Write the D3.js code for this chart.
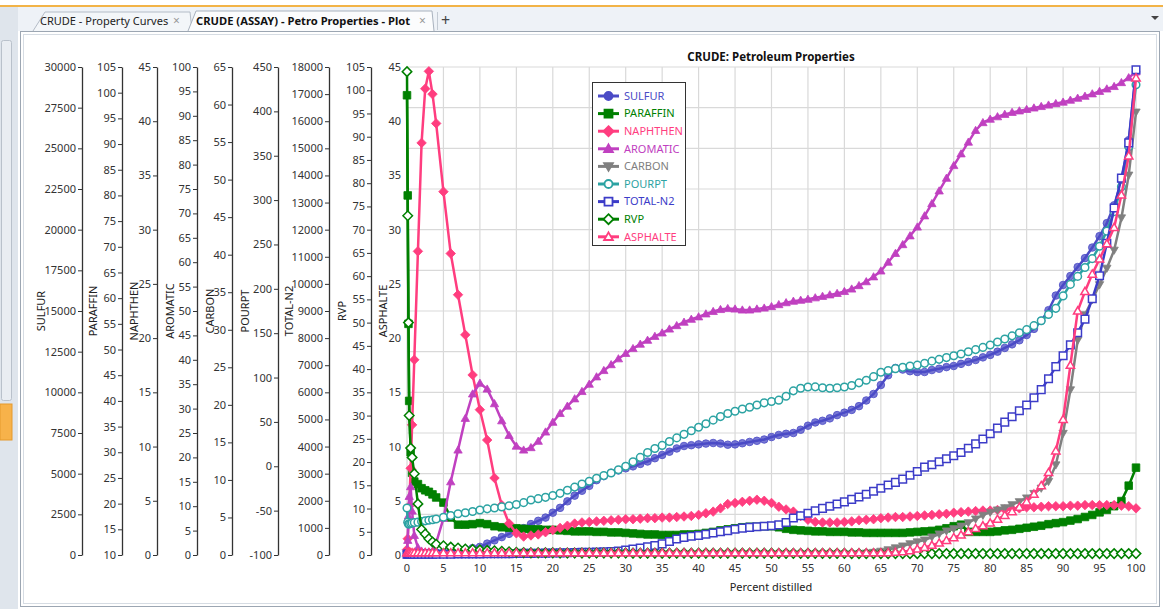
<!DOCTYPE html>
<html>
<head>
<meta charset="utf-8">
<script src="https://cdn.jsdelivr.net/npm/d3@7"></script>
<style>
  body { margin: 0; background: #fff; }
  svg { display: block; font-family: "Noto Sans", "Open Sans", sans-serif; }
</style>
</head>
<body>
<svg id="chart" width="1163" height="609"></svg>
<script>
// ---- data ----
const pctDistilled = [0, 0.1, 0.2, 0.3, 0.5, 0.7, 1, 1.5, 2, 2.5, 3, 3.5, 4,
  5, 6, 7, 8, 9, 10, 11, 12, 13, 14, 15, 16, 17, 18, 19, 20,
  21, 22, 23, 24, 25, 26, 27, 28, 29, 30,
  31, 32, 33, 34, 35, 36, 37, 38, 39, 40,
  41, 42, 43, 44, 45, 46, 47, 48, 49, 50,
  51, 52, 53, 54, 55, 56, 57, 58, 59, 60,
  61, 62, 63, 64, 65, 66, 67, 68, 69, 70,
  71, 72, 73, 74, 75, 76, 77, 78, 79, 80,
  81, 82, 83, 84, 85, 86, 87, 88, 89, 90,
  91, 92, 93, 94, 95, 96, 97, 98, 99, 100];

const sulfur = [100, 100, 100, 100, 100, 110, 120, 120, 130, 130, 140, 140, 150,
  160, 200, 250, 350, 420, 500, 700, 900, 1100, 1300, 1450, 1650, 1900, 2100, 2300, 2600,
  2900, 3300, 3650, 3950, 4250, 4600, 4850, 5050, 5200, 5330,
  5450, 5600, 5750, 5950, 6150, 6350, 6550, 6700, 6750, 6800,
  6850, 6885, 6850, 6780, 6800, 6870, 6950, 7020, 7100, 7250,
  7380, 7450, 7500, 7700, 7950, 8150, 8250, 8400, 8600, 8750,
  8920, 9150, 9500, 9900, 10450, 11050, 11500, 11400, 11300, 11250,
  11250, 11370, 11450, 11550, 11620, 11750, 11870, 11990, 12150, 12300,
  12500, 12730, 12950, 13200, 13520, 13900, 14400, 15050, 15950, 16600,
  17150, 17700, 18250, 18900, 19600, 20400, 21500, 23000, 25500, 29700];

const paraffin = [99.5, 80, 55, 40, 30, 26, 24.3, 23.8, 23.0, 22.6, 22.3, 21.8, 21.2,
  20.2, 17.3, 15.9, 15.9, 16.0, 16.2, 16.0, 15.6, 15.4, 15.3, 15.2, 15.1, 15.0, 15.0, 14.9, 14.9,
  14.8, 14.7, 14.6, 14.6, 14.6, 14.5, 14.5, 14.4, 14.4, 14.3,
  14.2, 14.1, 14.0, 14.0, 13.9, 13.9, 13.9, 14.0, 14.0, 14.1,
  14.3, 14.5, 14.8, 15.0, 15.2, 15.4, 15.5, 15.5, 15.6, 15.6,
  15.4, 15.1, 14.9, 14.8, 14.7, 14.6, 14.6, 14.5, 14.5, 14.5,
  14.4, 14.4, 14.3, 14.3, 14.3, 14.3, 14.3, 14.3, 14.4, 14.5,
  14.6, 14.7, 14.9, 15.2, 15.6, 15.9, 14.5, 14.5, 14.5, 14.5,
  14.6, 14.8, 14.9, 15.1, 15.3, 15.5, 15.7, 16.0, 16.2, 16.4,
  16.7, 17.0, 17.4, 17.8, 18.3, 18.8, 19.5, 20.5, 23.5, 27.0];

const naphthen = [0.5, 1.5, 3, 4.5, 8, 12, 18, 28, 38, 43, 44.6, 42.5, 39.8,
  33.5, 27.8, 24.0, 20.3, 16.6, 13.4, 10.6, 7.1, 4.6, 2.9, 2.0, 1.7, 1.8, 1.9, 2.1, 2.3,
  2.5, 2.7, 2.9, 3.0, 3.05, 3.1, 3.15, 3.2, 3.25, 3.3,
  3.3, 3.35, 3.4, 3.4, 3.45, 3.45, 3.5, 3.55, 3.6, 3.7,
  3.85, 4.0, 4.3, 4.7, 4.8, 4.9, 5.0, 5.1, 5.0, 4.8,
  4.45, 4.2, 4.0, 3.6, 3.25, 3.05, 3.0, 3.0, 3.0, 3.05,
  3.1, 3.2, 3.25, 3.3, 3.4, 3.45, 3.5, 3.5, 3.55, 3.6,
  3.65, 3.7, 3.75, 3.8, 3.9, 3.95, 4.0, 4.05, 4.1, 4.1,
  4.15, 4.2, 4.25, 4.3, 4.4, 4.4, 4.45, 4.5, 4.5, 4.5,
  4.55, 4.55, 4.6, 4.6, 4.6, 4.6, 4.6, 4.55, 4.5, 4.3];

const aromatic = [0.5, 3, 8, 12, 14, 9, 4, 1.5, 0.8, 0.6, 0.6, 0.8, 2.5,
  7.5, 15, 21.5, 28, 33, 35.2, 34, 31, 27.5, 24.5, 22.3, 21.5, 22, 23.3, 25.2, 27.2,
  29, 30.5, 32, 33.5, 35, 36.5, 37.8, 39, 40.2, 41.3,
  42.3, 43.2, 44, 44.8, 45.5, 46.3, 47, 47.7, 48.3, 48.8,
  49.4, 49.9, 50.3, 50.5, 50.4, 50.2, 50.2, 50.4, 50.6, 50.9,
  51.3, 51.7, 52, 52.2, 52.4, 52.7, 53, 53.3, 53.6, 54,
  54.5, 55.2, 56, 57, 58.2, 60, 61.8, 63.6, 65.4, 67.2,
  69.5, 72, 74.6, 77.2, 79.8, 82.2, 84.6, 87, 88.6, 89.3,
  89.8, 90.3, 90.7, 91, 91.3, 91.6, 91.9, 92.2, 92.5, 92.8,
  93.2, 93.6, 94, 94.5, 95, 95.5, 96, 96.8, 97.8, 99];

const carbon = [0.1, 0.1, 0.1, 0.1, 0.1, 0.1, 0.1, 0.1, 0.1, 0.1, 0.1, 0.1, 0.1,
  0.1, 0.1, 0.1, 0.1, 0.1, 0.1, 0.1, 0.1, 0.1, 0.1, 0.1, 0.1, 0.1, 0.1, 0.1, 0.1,
  0.1, 0.1, 0.1, 0.1, 0.1, 0.1, 0.1, 0.1, 0.1, 0.1,
  0.1, 0.1, 0.1, 0.1, 0.1, 0.1, 0.1, 0.1, 0.1, 0.1,
  0.1, 0.1, 0.1, 0.1, 0.1, 0.1, 0.1, 0.1, 0.1, 0.1,
  0.1, 0.1, 0.1, 0.1, 0.1, 0.1, 0.1, 0.1, 0.1, 0.1,
  0.1, 0.15, 0.25, 0.35, 0.5, 0.7, 0.95, 1.2, 1.5, 1.75,
  2.0, 2.4, 2.8, 3.2, 3.5, 3.85, 4.3, 4.8, 5.3, 5.7,
  6.0, 6.3, 6.7, 7.1, 7.6, 8.2, 8.9, 9.8, 12, 16.2,
  22, 28.6, 32, 34, 36, 38.2, 40.6, 44.9, 50.6, 59];

const pourpt = [-47, -63, -65, -65, -64.5, -64, -63.5, -63, -62.3, -61.5, -60.8, -60.2, -59.5,
  -57.5, -55.5, -53.5, -52.3, -51, -49.3, -48, -47, -45.8, -44.5, -43, -41, -38, -36.5, -35, -33,
  -30.5, -27, -23.5, -20, -16.8, -13.5, -10.5, -7.5, -4, 0,
  5, 10, 15.5, 20, 23.5, 28, 32, 36, 40, 44,
  48, 52, 56, 59.5, 62, 64.5, 66.5, 69, 71.5, 73,
  74.5, 79, 85, 88, 89.3, 89.5, 88.5, 88, 88.5, 89.3,
  91, 94, 97, 101, 106, 108, 110, 111.5, 113, 114,
  116, 118.5, 120.5, 122.5, 124.5, 126.5, 129, 131.5, 134, 136.7,
  140, 143.5, 147, 150.5, 154, 158.5, 164, 171, 178, 192,
  205, 214, 224, 234, 248, 265, 287, 315, 360, 430];

const totalN2 = [30, 30, 30, 30, 30, 30, 30, 30, 30, 30, 30, 30, 30,
  30, 30, 35, 35, 40, 40, 45, 45, 50, 50, 55, 60, 60, 65, 70, 75,
  80, 85, 90, 95, 100, 105, 115, 130, 150, 180,
  220, 260, 300, 350, 410, 500, 590, 650, 690, 720,
  765, 811, 855, 900, 950, 990, 1020, 1040, 1060, 1080,
  1110, 1200, 1365, 1450, 1540, 1630, 1720, 1800, 1880, 1960,
  2050, 2140, 2240, 2350, 2460, 2580, 2680, 2800, 2940, 3080,
  3240, 3330, 3440, 3550, 3660, 3780, 3940, 4100, 4280, 4470,
  4680, 4900, 5100, 5320, 5533, 5800, 6100, 6500, 6950, 7350,
  7750, 8200, 8700, 9450, 10300, 11500, 12800, 13900, 15200, 17900];

const rvp = [104, 73, 50, 30, 23, 21, 17.5, 11, 5.5, 4.5, 3.5, 2.8, 2.3,
  2.0, 1.7, 1.5, 1.3, 1.2, 1.1, 1.0, 0.9, 0.8, 0.7, 0.6, 0.55, 0.5, 0.5, 0.5, 0.5,
  0.45, 0.45, 0.45, 0.45, 0.45, 0.45, 0.45, 0.45, 0.45, 0.45,
  0.4, 0.4, 0.4, 0.4, 0.4, 0.4, 0.4, 0.4, 0.4, 0.4,
  0.4, 0.4, 0.4, 0.4, 0.4, 0.4, 0.4, 0.4, 0.4, 0.4,
  0.35, 0.35, 0.35, 0.35, 0.35, 0.35, 0.35, 0.35, 0.35, 0.35,
  0.3, 0.3, 0.3, 0.3, 0.3, 0.3, 0.3, 0.3, 0.3, 0.3,
  0.3, 0.3, 0.3, 0.3, 0.3, 0.3, 0.3, 0.3, 0.3, 0.3,
  0.3, 0.3, 0.3, 0.3, 0.3, 0.3, 0.3, 0.3, 0.3, 0.3,
  0.3, 0.3, 0.3, 0.3, 0.3, 0.3, 0.3, 0.3, 0.3, 0.3];

const asphalte = [0.2, 0.2, 0.2, 0.2, 0.2, 0.2, 0.2, 0.2, 0.2, 0.2, 0.2, 0.2, 0.2,
  0.2, 0.2, 0.2, 0.2, 0.2, 0.2, 0.2, 0.2, 0.2, 0.2, 0.2, 0.2, 0.2, 0.2, 0.2, 0.2,
  0.2, 0.2, 0.2, 0.2, 0.2, 0.2, 0.2, 0.2, 0.2, 0.2,
  0.2, 0.2, 0.2, 0.2, 0.2, 0.2, 0.2, 0.2, 0.2, 0.2,
  0.2, 0.2, 0.2, 0.2, 0.2, 0.2, 0.2, 0.2, 0.2, 0.2,
  0.2, 0.2, 0.2, 0.2, 0.2, 0.2, 0.2, 0.2, 0.2, 0.2,
  0.2, 0.2, 0.2, 0.2, 0.2, 0.22, 0.25, 0.3, 0.4, 0.55,
  0.7, 0.9, 1.1, 1.35, 1.6, 1.85, 2.15, 2.45, 2.7, 2.95,
  3.3, 3.65, 4.0, 4.4, 4.9, 5.6, 6.4, 7.6, 9.6, 12.5,
  17.5, 22.5, 24.3, 25.9, 27.3, 28.7, 30.2, 33.2, 36.8, 44];

const seriesNames = ['SULFUR', 'PARAFFIN', 'NAPHTHEN', 'AROMATIC', 'CARBON', 'POURPT', 'TOTAL-N2', 'RVP', 'ASPHALTE'];
const seriesValues = [sulfur, paraffin, naphthen, aromatic, carbon, pourpt, totalN2, rvp, asphalte];
const axisDomains = [[0, 30000], [10, 105], [0, 45], [0, 100], [0, 65], [-100, 450], [0, 18000], [0, 105], [0, 45]];
const axisSteps = [2500, 5, 5, 5, 5, 50, 1000, 5, 5];
const xTicks = [0, 5, 10, 15, 20, 25, 30, 35, 40, 45, 50, 55, 60, 65, 70, 75, 80, 85, 90, 95, 100];

// ---- styles ----
const seriesColors = ['#4b4bc6', '#008000', '#ff3d7f', '#c040c0', '#808080', '#2ca3a3', '#3c3cc8', '#008000', '#ff3d7f'];
const markerShapes = ['circle', 'square', 'diamond', 'triangle', 'triangleDown', 'circle', 'square', 'diamond', 'triangle'];
const markerFilled = [true, true, true, true, true, false, false, false, false];
const axisLineX = [82, 122, 157, 197, 232, 278, 329, 371, 407];
const axisTitleX = [45, 97, 138, 174, 214, 249, 293, 346, 387];

const plot = { left: 407, right: 1136, top: 67, bottom: 555 };
const svg = d3.select('#chart');

function markerPath(shape, s) {
  switch (shape) {
    case 'circle': return d3.symbol(d3.symbolCircle, Math.PI * s * s)();
    case 'square': return `M${-s},${-s}H${s}V${s}H${-s}Z`;
    case 'diamond': return `M0,${-s * 1.25}L${s * 1.25},0L0,${s * 1.25}L${-s * 1.25},0Z`;
    case 'triangle': return `M0,${-s * 1.1}L${s * 1.1},${s * 0.8}L${-s * 1.1},${s * 0.8}Z`;
    case 'triangleDown': return `M0,${s * 1.1}L${s * 1.1},${-s * 0.8}L${-s * 1.1},${-s * 0.8}Z`;
  }
}

// ---- window chrome ----
svg.append('rect').attr('width', 1163).attr('height', 609).attr('fill', '#fff');
svg.append('rect').attr('x', 0).attr('y', 0).attr('width', 1163).attr('height', 31).attr('fill', '#eef2f7');
svg.append('rect').attr('x', 0).attr('y', 0).attr('width', 1163).attr('height', 5).attr('fill', '#fff');
svg.append('rect').attr('x', 0).attr('y', 5).attr('width', 1163).attr('height', 2).attr('fill', '#f2b347');
svg.append('rect').attr('x', 0).attr('y', 7).attr('width', 18).attr('height', 602).attr('fill', '#dfe5ec');
svg.append('rect').attr('x', 1.5).attr('y', 40.5).attr('width', 10).attr('height', 360).attr('rx', 2)
  .attr('fill', '#e9edf2').attr('stroke', '#b9c1cb');
svg.append('rect').attr('x', 0).attr('y', 404).attr('width', 12).attr('height', 36).attr('fill', '#f7b24a').attr('stroke', '#e59a2c');

// tabs
svg.append('path').attr('d', 'M33,31 L45,12 L190,12 L192,31').attr('fill', '#f3f6f9').attr('stroke', '#b4bcc7');
svg.append('path').attr('d', 'M188,31 L196,11 L432,11 L434,31').attr('fill', '#fbfcfd').attr('stroke', '#a9b2be');
svg.append('text').attr('x', 40).attr('y', 25).attr('font-size', 11).attr('fill', '#222').text('CRUDE - Property Curves');
svg.append('text').attr('x', 173).attr('y', 25).attr('font-size', 12).attr('fill', '#999').text('×');
svg.append('text').attr('x', 196).attr('y', 25).attr('font-size', 11.2).attr('font-weight', 'bold').attr('fill', '#111')
  .text('CRUDE (ASSAY) - Petro Properties - Plot');
svg.append('text').attr('x', 419).attr('y', 25).attr('font-size', 12).attr('fill', '#999').text('×');
svg.append('line').attr('x1', 437.5).attr('x2', 437.5).attr('y1', 12).attr('y2', 30).attr('stroke', '#c3cad3');
svg.append('text').attr('x', 441).attr('y', 26).attr('font-size', 16).attr('fill', '#444').text('+');
svg.append('path').attr('d', 'M1151,16 L1159,16 L1155,20 Z').attr('fill', '#444');

// content panel
svg.append('rect').attr('x', 20.5).attr('y', 31.5).attr('width', 1139).attr('height', 575).attr('fill', '#fff').attr('stroke', '#9ca6b2');
svg.append('rect').attr('x', 23.5).attr('y', 34.5).attr('width', 1133).attr('height', 569).attr('fill', 'none').attr('stroke', '#d6dce3');

// ---- scales ----
const x = d3.scaleLinear().domain([0, 100]).range([plot.left, plot.right]);
const yScales = axisDomains.map(dom => d3.scaleLinear().domain(dom).range([plot.bottom, plot.top]));

// grid
const grid = svg.append('g').attr('stroke', '#d9d9d9').attr('stroke-width', 1.2);
grid.selectAll('.gx').data(xTicks).enter().append('line')
  .attr('x1', d => x(d)).attr('x2', d => x(d)).attr('y1', plot.top).attr('y2', plot.bottom);
grid.selectAll('.gy').data(d3.range(axisDomains[0][0], axisDomains[0][1] + 1, axisSteps[0])).enter().append('line')
  .attr('x1', plot.left).attr('x2', plot.right).attr('y1', d => yScales[0](d)).attr('y2', d => yScales[0](d));

// y axes
seriesNames.forEach((name, i) => {
  const [lo, hi] = axisDomains[i];
  const ticks = d3.range(lo, hi + axisSteps[i] / 2, axisSteps[i]);
  const g = svg.append('g').attr('transform', `translate(${axisLineX[i]},0)`)
    .call(d3.axisLeft(yScales[i]).tickValues(ticks).tickSize(4).tickSizeOuter(0).tickPadding(2).tickFormat(d => String(d)));
  g.select('.domain').attr('stroke', i === 8 ? 'none' : '#333').attr('stroke-width', 1.3);
  g.selectAll('.tick line').attr('stroke', i === 8 ? 'none' : '#333');
  g.selectAll('.tick text').attr('font-size', 11).attr('fill', '#333').attr('font-family', '"Noto Sans", sans-serif');
  svg.append('text')
    .attr('transform', `translate(${axisTitleX[i]},${(plot.top + plot.bottom) / 2}) rotate(-90)`)
    .attr('text-anchor', 'middle').attr('font-size', 11).attr('fill', '#222').text(name);
});

// x axis labels
svg.append('g').selectAll('text').data(xTicks).enter().append('text')
  .attr('x', d => x(d)).attr('y', 572).attr('text-anchor', 'middle').attr('font-size', 11).attr('fill', '#333')
  .text(d => d);
svg.append('text').attr('x', 771).attr('y', 591).attr('text-anchor', 'middle').attr('font-size', 11).attr('fill', '#222')
  .text('Percent distilled');

// title
svg.append('text').attr('x', 771).attr('y', 61).attr('text-anchor', 'middle').attr('font-size', 11.5)
  .attr('font-weight', 'bold').attr('fill', '#111').text('CRUDE: Petroleum Properties');

// ---- series ----
seriesNames.forEach((name, i) => {
  const pts = pctDistilled.map((p, k) => [p, seriesValues[i][k]]);
  const ys = yScales[i];
  const col = seriesColors[i];
  const g = svg.append('g').attr('class', 'series');
  g.append('path').datum(pts)
    .attr('d', d3.line().x(d => x(d[0])).y(d => ys(d[1])))
    .attr('fill', 'none').attr('stroke', col).attr('stroke-width', 2.5);
  g.selectAll('path.m').data(pts).enter().append('path').attr('class', 'm')
    .attr('transform', d => `translate(${x(d[0])},${ys(d[1])})`)
    .attr('d', markerPath(markerShapes[i], 3.8))
    .attr('fill', markerFilled[i] ? col : '#fff')
    .attr('fill-opacity', i === 0 ? 0.75 : 1)
    .attr('stroke', col).attr('stroke-width', markerFilled[i] ? 0.8 : 1.5);
});

// ---- legend ----
const legend = svg.append('g');
legend.append('rect').attr('x', 592.5).attr('y', 82.5).attr('width', 93).attr('height', 163)
  .attr('fill', '#fff').attr('stroke', '#333');
seriesNames.forEach((name, i) => {
  const ly = 96 + i * 17.6;
  const col = seriesColors[i];
  legend.append('line').attr('x1', 598).attr('x2', 619).attr('y1', ly).attr('y2', ly)
    .attr('stroke', col).attr('stroke-width', 3);
  legend.append('path').attr('transform', `translate(608.5,${ly})`).attr('d', markerPath(markerShapes[i], 4))
    .attr('fill', markerFilled[i] ? col : '#fff').attr('stroke', col).attr('stroke-width', 1.8);
  legend.append('text').attr('x', 624).attr('y', ly).attr('dy', '0.35em').attr('font-size', 11)
    .attr('fill', col).text(name);
});
</script>
</body>
</html>
